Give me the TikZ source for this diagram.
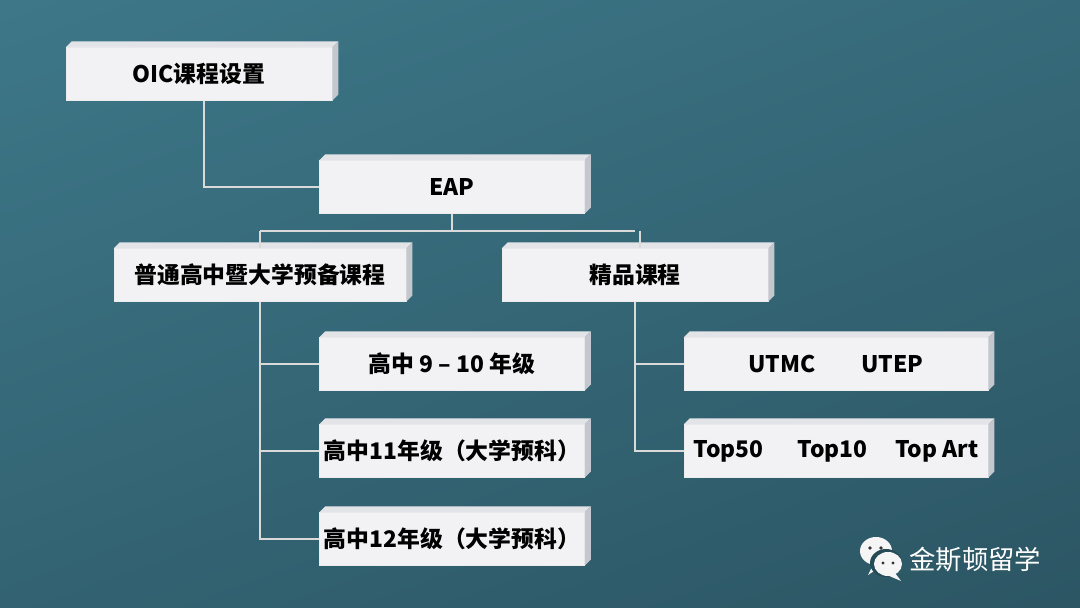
\documentclass[tikz,border=0pt]{standalone}
\usepackage{fontspec}
\setmainfont{Noto Sans CJK SC}
\usetikzlibrary{positioning}
\definecolor{bgtop}{HTML}{3F7B8C}
\definecolor{bgbot}{HTML}{2A5260}
\definecolor{boxfront}{HTML}{F2F2F4}
\definecolor{boxside}{HTML}{C4C8CE}
\definecolor{boxtop}{HTML}{E2E4E8}
\definecolor{wire}{HTML}{DADADA}
\tikzset{
  course/.style={draw=white!85!gray, line width=0.4pt, fill=boxfront, minimum height=1.05cm,
    font=\fontsize{13}{15}\selectfont\bfseries, text=black, inner sep=0pt},
  link/.style={draw=wire, line width=1.1pt}
}
\begin{document}
\begin{tikzpicture}[x=0.02cm,y=-0.02cm]
    \useasboundingbox (0,0) rectangle (1080,608);
    \begin{scope}
        \clip (0,0) rectangle (1080,608);
        \shade[top color=bgtop, bottom color=bgbot, shading angle=20] (-200,-200) rectangle (1280,808);
    \end{scope}

    \node[course, minimum width=5.32cm] (oic) at (199, 74) {OIC课程设置};
    \node[course, minimum width=5.3cm] (eap) at (452, 187) {EAP};
    \node[course, minimum width=5.84cm] (prep) at (260, 275) {普通高中暨大学预备课程};
    \node[course, minimum width=5.32cm] (elite) at (635, 275) {精品课程};
    \node[course, minimum width=5.3cm] (g910) at (452, 364) {高中 9 – 10 年级};
    \node[course, minimum width=5.3cm] (g11) at (452, 451) {高中11年级（大学预科）};
    \node[course, minimum width=5.3cm] (g12) at (452, 539) {高中12年级（大学预科）};
    \node[course, minimum width=6.08cm] (utmc) at (836, 364) {UTMC\hspace{2em}UTEP};
    \node[course, minimum width=6.08cm] (top) at (836, 451) {Top50\hspace{1.5em}Top10\hspace{1.2em}Top Art};

    % raised edges
    \foreach \n in {oic,eap,prep,elite,g910,g11,g12,utmc,top} {
        \fill[boxtop] (\n.north west) -- ++(6,-6) -- ([shift={(6,-6)}]\n.north east) -- (\n.north east) -- cycle;
        \fill[boxside] (\n.north east) -- ++(6,-6) -- ([shift={(6,-6)}]\n.south east) -- (\n.south east) -- cycle;
    }

    \draw[link] ([xshift=0.1cm]oic.south) |- (eap.west);
    \draw[link] (eap.south) -- ++(0,17) coordinate (fork);
    \draw[link] (fork -| prep.north) -- (fork -| elite.north);
    \draw[link] (fork -| prep.north) -- (prep.north);
    \draw[link] ([xshift=0.1cm]fork -| elite.north) -- ([xshift=0.1cm]elite.north);
    \draw[link] (prep.south) |- (g12.west);
    \draw[link] (prep.south |- g910.west) -- (g910.west);
    \draw[link] (prep.south |- g11.west) -- (g11.west);
    \draw[link] (elite.south) |- (top.west);
    \draw[link] (elite.south |- utmc.west) -- (utmc.west);

    % wechat mark
    \fill[white!92!gray] (876,551) ellipse (16 and 14);
    \fill[white!92!gray] (874,563) -- (868,575) -- (883,565) -- cycle;
    \fill[bgbot!90!black] (886,563) ellipse (16 and 14);
    \fill[white!92!gray] (888,564) ellipse (14 and 12);
    \fill[white!92!gray] (895,573) -- (901,581) -- (887,575) -- cycle;
    \fill[black!80] (870,548) circle (1.8) (881,548) circle (1.8) (883,563) circle (1.7) (893,563) circle (1.7);
    \node[text=white, font=\fontsize{15}{17}\selectfont, anchor=west, inner sep=0pt] (mark) at (909,560) {金斯顿留学};
\end{tikzpicture}
\end{document}
